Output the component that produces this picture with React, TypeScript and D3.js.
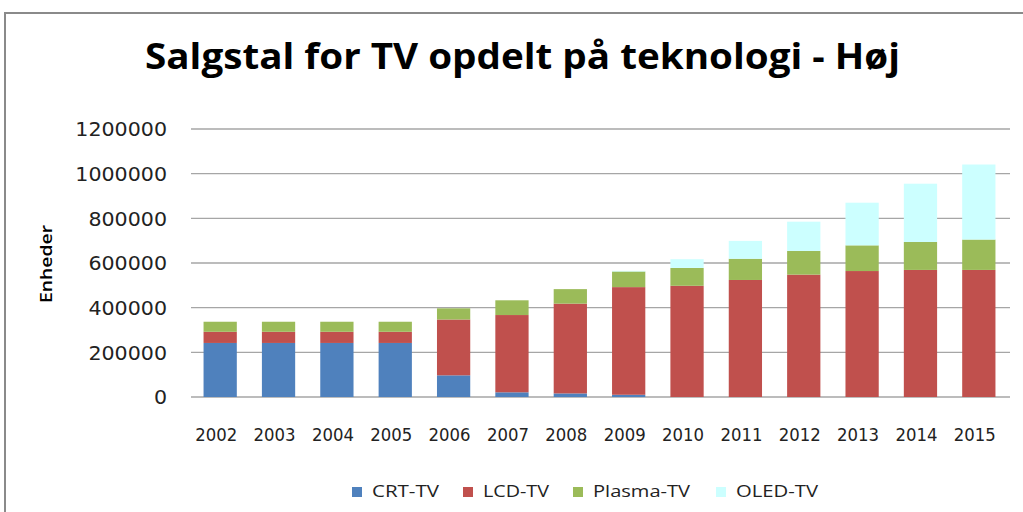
import { useMemo } from 'react';
import * as d3 from 'd3';

const YEARS = ['2002', '2003', '2004', '2005', '2006', '2007', '2008', '2009', '2010', '2011', '2012', '2013', '2014', '2015'];
const CRT = [242000, 242000, 242000, 242000, 97000, 21000, 16000, 10000, 0, 0, 0, 0, 0, 0];
const LCD = [50000, 50000, 50000, 50000, 250000, 346000, 402000, 482000, 498000, 524000, 548000, 564000, 569000, 569000];
const PLASMA = [45000, 45000, 45000, 45000, 50000, 66000, 65000, 70000, 80000, 95000, 106000, 115000, 125000, 136000];
const OLED = [0, 0, 0, 0, 0, 0, 0, 3000, 39000, 80000, 131000, 191000, 261000, 336000];
const Y_TICKS = [0, 200000, 400000, 600000, 800000, 1000000, 1200000];

const SERIES = [
  { key: 'crt', label: 'CRT-TV', values: CRT, colour: '#4F81BD' },
  { key: 'lcd', label: 'LCD-TV', values: LCD, colour: '#C0504D' },
  { key: 'plasma', label: 'Plasma-TV', values: PLASMA, colour: '#9BBB59' },
  { key: 'oled', label: 'OLED-TV', values: OLED, colour: '#CCFFFF' },
];

const TITLE = 'Salgstal for TV opdelt på teknologi - Høj';
const W = 1023;
const H = 512;
const PLOT = { left: 191, right: 1008, top: 129, bottom: 397 };

// legend placement + text widths
const LEGEND_X = [352, 463, 573, 716];
const LEGEND_W = [67, 66, 97, 82];

export default function App() {
  const x = useMemo(() => d3.scaleBand<string>()
    .domain(YEARS)
    .range([PLOT.left, PLOT.right])
    .paddingInner(0.43)
    .paddingOuter(0.215), []);

  const y = useMemo(() => d3.scaleLinear()
    .domain([0, 1200000])
    .range([PLOT.bottom, PLOT.top]), []);

  const stacked = useMemo(() => {
    const rows = YEARS.map((yr, i) => {
      const row: Record<string, number | string> = { year: yr };
      SERIES.forEach(s => { row[s.key] = s.values[i]; });
      return row;
    });
    return d3.stack<Record<string, number | string>>()
      .keys(SERIES.map(s => s.key))(rows as any);
  }, []);

  const tickFont = 'DejaVu Sans, sans-serif';

  return (
    <svg width={W} height={H} style={{ position: 'absolute', left: 0, top: 0, background: '#fff' }}>
      {/* chart frame (only top + left edges visible) */}
      <line x1={5} x2={W} y1={13} y2={13} stroke="#8a8a8a" strokeWidth={2} />
      <line x1={5} x2={5} y1={12} y2={H} stroke="#8a8a8a" strokeWidth={2} />

      <text
        x={145}
        y={69}
        fontFamily="Open Sans, sans-serif"
        fontWeight="bold"
        fontSize={36}
        textLength={755}
        lengthAdjust="spacingAndGlyphs"
        fill="#000"
      >
        {TITLE}
      </text>

      {/* gridlines */}
      {Y_TICKS.map(t => (
        <line key={t} x1={PLOT.left} x2={PLOT.right + 2} y1={y(t)} y2={y(t)} stroke="#a6a6a6" strokeWidth={1.3} />
      ))}

      {/* y tick labels */}
      {Y_TICKS.map(t => (
        <text
          key={t}
          x={167}
          y={y(t)}
          dy="0.36em"
          textAnchor="end"
          fontFamily={tickFont}
          fontSize={20}
          textLength={String(t).length * 13.1}
          lengthAdjust="spacingAndGlyphs"
          fill="#222"
        >
          {t}
        </text>
      ))}

      <text
        transform="translate(52,264) rotate(-90)"
        textAnchor="middle"
        fontFamily="Open Sans, sans-serif"
        fontWeight="600"
        fontSize={17}
        textLength={78}
        lengthAdjust="spacingAndGlyphs"
        fill="#000"
      >
        Enheder
      </text>

      {/* bars */}
      {stacked.map((layer, si) => (
        <g key={layer.key} fill={SERIES[si].colour}>
          {layer.map((d, i) => {
            const h = y(d[0]) - y(d[1]);
            if (h <= 0) return null;
            return (
              <rect
                key={YEARS[i]}
                x={x(YEARS[i])}
                y={y(d[1])}
                width={x.bandwidth()}
                height={h}
              />
            );
          })}
        </g>
      ))}

      {/* x tick labels */}
      {YEARS.map(yr => (
        <text
          key={yr}
          x={(x(yr) ?? 0) + x.bandwidth() / 2 - 4}
          y={441}
          textAnchor="middle"
          fontFamily={tickFont}
          fontSize={17.5}
          textLength={42}
          lengthAdjust="spacingAndGlyphs"
          fill="#222"
        >
          {yr}
        </text>
      ))}

      {/* legend */}
      {SERIES.map((s, i) => (
        <g key={s.key}>
          <rect x={LEGEND_X[i]} y={487} width={10} height={10} fill={s.colour} />
          <text
            x={LEGEND_X[i] + 20}
            y={497}
            fontFamily="Open Sans, sans-serif"
            fontSize={16.5}
            textLength={LEGEND_W[i]}
            lengthAdjust="spacingAndGlyphs"
            fill="#222"
          >
            {s.label}
          </text>
        </g>
      ))}
    </svg>
  );
}
